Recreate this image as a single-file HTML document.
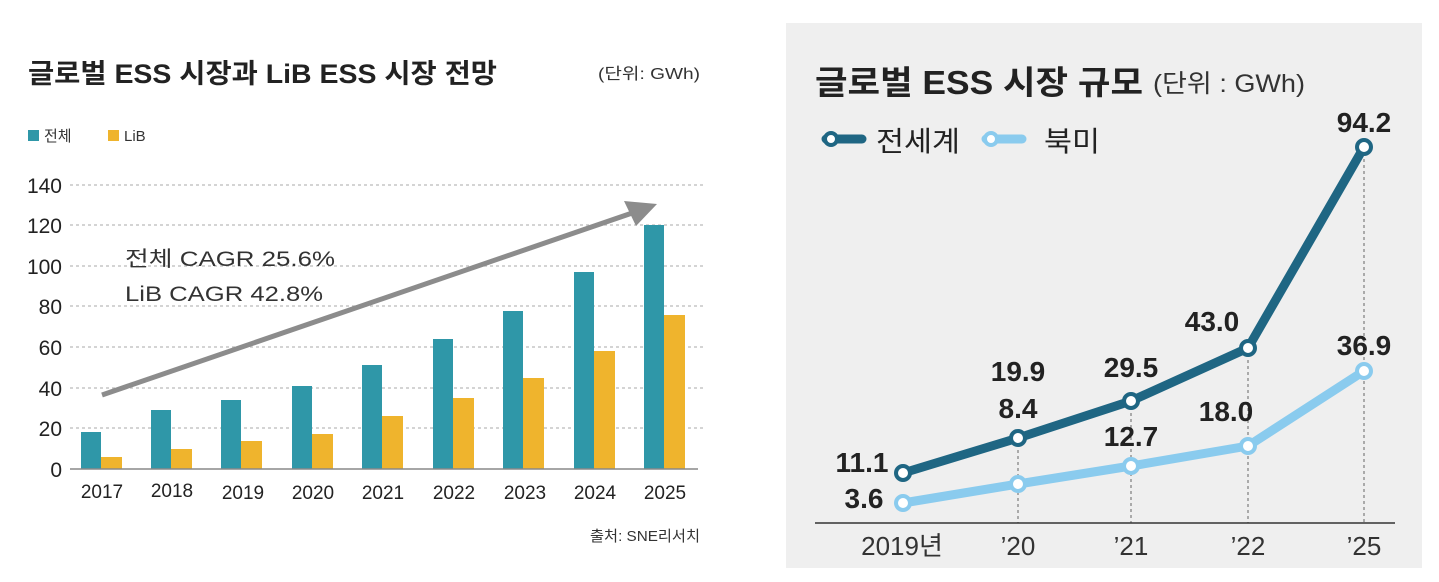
<!DOCTYPE html>
<html><head><meta charset="utf-8"><style>
body{margin:0;width:1439px;height:582px;background:#fff;overflow:hidden;font-family:"Liberation Sans","Noto Sans CJK KR",sans-serif}
</style></head><body>
<svg width="1439" height="582" xmlns="http://www.w3.org/2000/svg" style="position:absolute;left:0;top:0">
<g font-family="Liberation Sans, Noto Sans CJK KR, sans-serif">
<text x="28" y="83" font-size="27" font-weight="bold" fill="#222" textLength="469" lengthAdjust="spacingAndGlyphs">글로벌 ESS 시장과 LiB ESS 시장 전망</text>
<text x="598" y="79" font-size="16" fill="#333" textLength="102" lengthAdjust="spacingAndGlyphs">(단위: GWh)</text>
<rect x="28" y="130" width="11" height="11" fill="#2f97a8"/><text x="44" y="141" font-size="15" fill="#333">전체</text>
<rect x="108" y="130" width="11" height="11" fill="#efb42d"/><text x="124" y="141" font-size="15" fill="#333">LiB</text>
<g stroke="#bbb" stroke-dasharray="3,3" stroke-width="1.2">
<line x1="70" x2="705" y1="185" y2="185"/><line x1="70" x2="705" y1="225" y2="225"/><line x1="70" x2="705" y1="266" y2="266"/><line x1="70" x2="705" y1="306" y2="306"/><line x1="70" x2="705" y1="347" y2="347"/><line x1="70" x2="705" y1="388" y2="388"/><line x1="70" x2="705" y1="428" y2="428"/>
</g>
<g font-size="21" fill="#222" text-anchor="end">
<text x="62" y="193">140</text><text x="62" y="233">120</text><text x="62" y="274">100</text><text x="62" y="314">80</text><text x="62" y="355">60</text><text x="62" y="396">40</text><text x="62" y="436">20</text><text x="62" y="477">0</text>
</g>
<g fill="#2f97a8">
<rect x="81" y="432" width="20" height="37"/><rect x="151" y="410" width="20" height="59"/><rect x="221" y="400" width="20" height="69"/><rect x="292" y="386" width="20" height="83"/><rect x="362" y="365" width="20" height="104"/><rect x="433" y="339" width="20" height="130"/><rect x="503" y="311" width="20" height="158"/><rect x="574" y="272" width="20" height="197"/><rect x="644" y="225" width="20" height="244"/>
</g>
<g fill="#efb42d">
<rect x="101" y="457" width="21" height="12"/><rect x="171" y="449" width="21" height="20"/><rect x="241" y="441" width="21" height="28"/><rect x="312" y="434" width="21" height="35"/><rect x="382" y="416" width="21" height="53"/><rect x="453" y="398" width="21" height="71"/><rect x="523" y="378" width="21" height="91"/><rect x="594" y="351" width="21" height="118"/><rect x="664" y="315" width="21" height="154"/>
</g>
<line x1="70" x2="698" y1="469" y2="469" stroke="#888" stroke-width="1.5"/>
<g font-size="19" fill="#222" text-anchor="middle">
<text x="102" y="498">2017</text><text x="172" y="497">2018</text><text x="243" y="499">2019</text><text x="313" y="499">2020</text><text x="383" y="499">2021</text><text x="454" y="499">2022</text><text x="525" y="499">2023</text><text x="595" y="499">2024</text><text x="665" y="499">2025</text>
</g>
<line x1="102" y1="395" x2="638" y2="211" stroke="#8c8c8c" stroke-width="5"/>
<polygon points="657,204 624,201 636,226" fill="#8c8c8c"/>
<text x="125" y="266" font-size="21" fill="#333" textLength="210" lengthAdjust="spacingAndGlyphs">전체 CAGR 25.6%</text>
<text x="125" y="301" font-size="21" fill="#333" textLength="198" lengthAdjust="spacingAndGlyphs">LiB CAGR 42.8%</text>
<text x="590" y="541" font-size="15" fill="#333" textLength="110" lengthAdjust="spacingAndGlyphs">출처: SNE리서치</text>

<rect x="786" y="23" width="636" height="545" fill="#efefef"/>
<text x="815" y="94" font-size="33" font-weight="bold" fill="#222" textLength="328" lengthAdjust="spacingAndGlyphs">글로벌 ESS 시장 규모</text>
<text x="1153" y="92" font-size="25" fill="#333" textLength="152" lengthAdjust="spacingAndGlyphs">(단위 : GWh)</text>
<line x1="826" y1="139" x2="862" y2="139" stroke="#1f6683" stroke-width="9" stroke-linecap="round"/><circle cx="831" cy="139" r="6" fill="#fff" stroke="#1f6683" stroke-width="4"/>
<text x="876" y="151" font-size="28" fill="#222" textLength="84" lengthAdjust="spacingAndGlyphs">전세계</text>
<line x1="986" y1="139" x2="1022" y2="139" stroke="#8acbee" stroke-width="9" stroke-linecap="round"/><circle cx="991" cy="139" r="6" fill="#fff" stroke="#8acbee" stroke-width="4"/>
<text x="1044" y="151" font-size="28" fill="#222" textLength="56" lengthAdjust="spacingAndGlyphs">북미</text>
<g stroke="#666" stroke-dasharray="3,3" stroke-width="1">
<line x1="1018" x2="1018" y1="438" y2="523"/><line x1="1131" x2="1131" y1="401" y2="523"/><line x1="1248" x2="1248" y1="348" y2="523"/><line x1="1364" x2="1364" y1="147" y2="523"/>
</g>
<line x1="815" x2="1395" y1="523" y2="523" stroke="#333" stroke-width="1.5"/>
<polyline points="903,503 1018,484 1131,466 1248,446 1364,371" fill="none" stroke="#8acbee" stroke-width="9" stroke-linejoin="round"/>
<polyline points="903,473 1018,438 1131,401 1248,348 1364,147" fill="none" stroke="#1f6683" stroke-width="9" stroke-linejoin="round"/>
<g fill="#fff" stroke="#8acbee" stroke-width="4">
<circle cx="903" cy="503" r="7"/><circle cx="1018" cy="484" r="7"/><circle cx="1131" cy="466" r="7"/><circle cx="1248" cy="446" r="7"/><circle cx="1364" cy="371" r="7"/></g>
<g fill="#fff" stroke="#1f6683" stroke-width="4">
<circle cx="903" cy="473" r="7"/><circle cx="1018" cy="438" r="7"/><circle cx="1131" cy="401" r="7"/><circle cx="1248" cy="348" r="7"/><circle cx="1364" cy="147" r="7"/></g>
<g font-size="28" font-weight="bold" fill="#222" text-anchor="middle">
<text x="862" y="472">11.1</text><text x="864" y="508">3.6</text>
<text x="1018" y="381">19.9</text><text x="1018" y="418">8.4</text>
<text x="1131" y="377">29.5</text><text x="1131" y="446">12.7</text>
<text x="1212" y="331">43.0</text><text x="1226" y="421">18.0</text>
<text x="1364" y="132">94.2</text><text x="1364" y="355">36.9</text>
</g>
<g font-size="26" fill="#333" text-anchor="middle">
<text x="902" y="555">2019년</text><text x="1018" y="555">’20</text><text x="1131" y="555">’21</text><text x="1248" y="555">’22</text><text x="1364" y="555">’25</text>
</g>
</g>
</svg>
</body></html>
